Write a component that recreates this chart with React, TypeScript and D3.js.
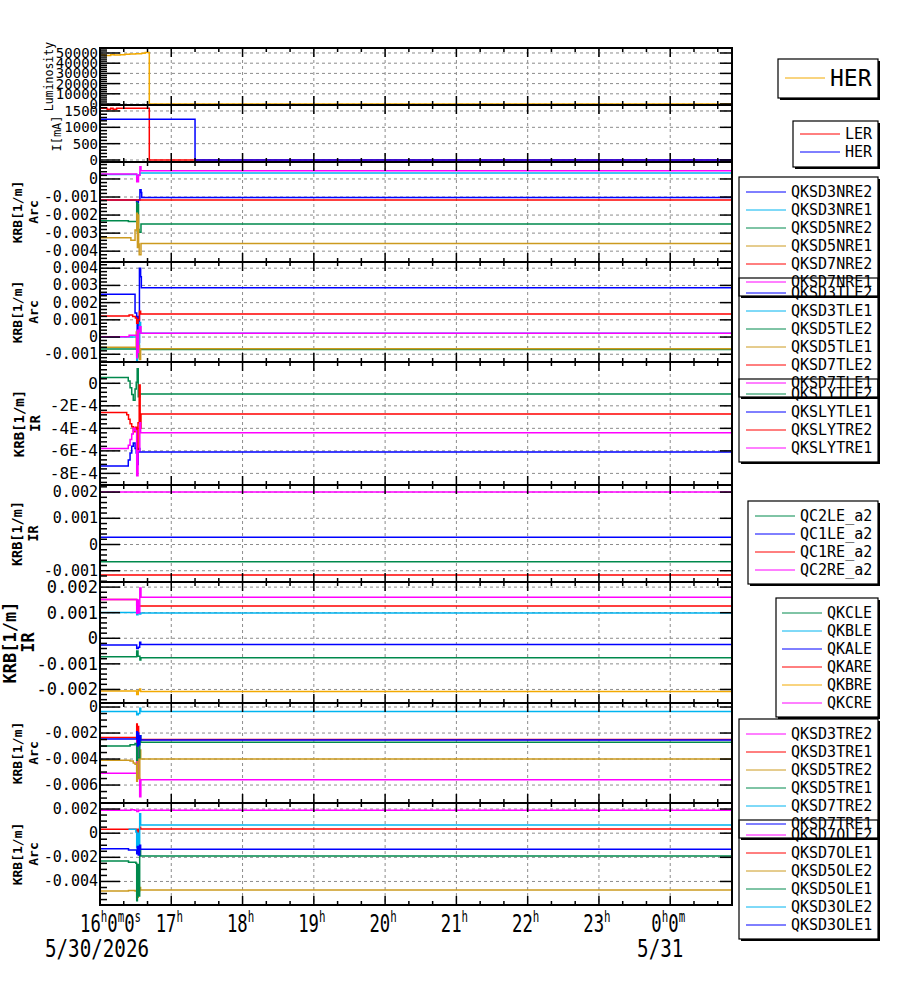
import React from "react";
import * as d3 from "d3";

const MONO = "'DejaVu Sans Mono', monospace";

// Time axis: 5/30/2026 16:00 to 5/31 00:52; series points are [minutes after 16:00, value]
const START = new Date(2026, 4, 30, 16, 0, 0);
const END = new Date(2026, 4, 31, 0, 52, 0);
const END_MIN = (END.getTime() - START.getTime()) / 60000;

type Pt = [number, number];

const HOUR_LABELS = ["16^h0^m0^s", "17^h", "18^h", "19^h", "20^h", "21^h", "22^h", "23^h", "0^h0^m"];
const DATE_LABELS: [string, number][] = [["5/30/2026", 0], ["5/31", 480]];

// Luminosity and beam currents
const lumHER: Pt[] = [[0, 48000], [4, 47600], [9, 48200], [12, 48000], [17, 48400], [21, 48700], [25, 48900], [30, 49300], [35, 49800], [38, 50500], [41.5, 0]];
const curLER: Pt[] = [[0, 1580], [6, 1550], [9, 1580], [11, 1550], [14, 1580], [41.5, 0]];
const curHER: Pt[] = [[0, 1245], [80, 0]];

// Arc, NRE
const QKSD3NRE2: Pt[] = [[0, -0.00117], [30.8, -0.00128], [31.3, -0.00145], [31.8, -0.0013], [32.3, -0.00117], [33.6, -0.0006], [34.6, -0.00075], [35.1, -0.00102]];
const QKSD3NRE1: Pt[] = [[0, 0.00025], [31, 0.00018], [32.5, 0.00022], [33.6, 0.00033]];
const QKSD5NRE2: Pt[] = [[0, -0.00232], [23.9, -0.00236], [30.9, -0.0013], [31.4, -0.0029], [31.9, -0.0014], [32.4, -0.0028], [32.9, -0.00295], [34.5, -0.0025]];
const QKSD5NRE1: Pt[] = [[0, -0.00326], [26, -0.0034], [29.5, -0.00283], [31, -0.0019], [31.5, -0.0038], [32, -0.002], [32.5, -0.0036], [33, -0.0042], [34.5, -0.00357]];
const QKSD7NRE2: Pt[] = [[0, -0.00117]];
const QKSD7NRE1: Pt[] = [[0, 0.00028], [30.9, -0.00015], [31.4, 0.0001], [31.9, -0.00015], [32.4, 0.0002], [33.6, 0.00067], [34.5, 0.00045]];

// Arc, TLE
const QKSD3TLE2: Pt[] = [[0, 0.00248], [29.5, 0.0014], [30.9, 0.0008], [31.3, -0.0005], [31.8, 0.0012], [32.4, -0.0003], [33.2, 0.004], [34.2, 0.0035], [34.8, 0.00287]];
const QKSD3TLE1: Pt[] = [[0, 0.0], [30.9, -0.0014], [31.5, 0.0], [32.2, -0.0012], [33.2, 0.00085], [34.2, 0.00022]];
const QKSD5TLE2: Pt[] = [[0, -0.0007], [30.9, -0.0011], [31.8, -0.0007], [34.2, -0.00072]];
const QKSD5TLE1: Pt[] = [[0, -0.0006], [30.5, 0.0003], [31.2, -0.0008], [31.8, 0.0002], [32.4, -0.0005], [33.2, -0.0013], [34.2, -0.00068]];
const QKSD7TLE2: Pt[] = [[0, 0.00122], [24.5, 0.00128], [27.5, 0.0012], [29.8, 0.0011], [30.9, 0.0008], [32, 0.001], [33.2, 0.0015], [34.2, 0.00134]];
const QKSD7TLE1: Pt[] = [[0, 0.00002], [24.5, 0.0001], [30.9, -0.0012], [31.4, 0.0004], [31.9, -0.0009], [32.4, 0.0003], [33.2, 0.0006], [34.5, 0.00022]];

// IR, SLY
const QKSLYTLE2: Pt[] = [[0, 5.2e-5], [23.8, 2e-5], [25.3, -4e-5], [26.7, -1e-4], [28, -1.5e-4], [29.5, -5e-5], [30.5, 1e-5], [31.3, 1.3e-4], [32.2, -1.2e-4], [33.5, -9.5e-5]];
const QKSLYTLE1: Pt[] = [[0, -7.35e-4], [23.8, -6.8e-4], [25.3, -6.2e-4], [26.7, -5.6e-4], [28, -5.3e-4], [29.5, -5.8e-4], [30.5, -6.2e-4], [31.3, -7.2e-4], [32.2, -5.8e-4], [33.5, -6.1e-4]];
const QKSLYTRE2: Pt[] = [[0, -2.6e-4], [22.5, -2.8e-4], [24, -3.2e-4], [25.3, -3.6e-4], [26.7, -3.85e-4], [28, -4.3e-4], [29.5, -3.9e-4], [30.9, -5.9e-4], [32, -3.5e-4], [33, -1.5e-5], [33.8, -4e-4], [34.5, -2.73e-4]];
const QKSLYTRE1: Pt[] = [[0, -5.78e-4], [23.8, -5.5e-4], [25.3, -5.0e-4], [26.7, -4.5e-4], [28, -4.0e-4], [29.5, -4.2e-4], [30.9, -8.2e-4], [32, -6e-4], [33.5, -3.5e-4], [34.2, -4.39e-4]];

// IR, QC
const QC2LE_a2: Pt[] = [[0, -0.00066]];
const QC1LE_a2: Pt[] = [[0, 0.00028]];
const QC1RE_a2: Pt[] = [[0, -0.00116]];
const QC2RE_a2: Pt[] = [[0, 0.002]];

// IR, QK
const QKCLE: Pt[] = [[0, -0.00072], [30.9, -0.0005], [32, -0.0007], [33.6, -0.00085], [34.4, -0.00076]];
const QKBLE: Pt[] = [[0, 0.00101], [30.9, 0.00092], [32, 0.001], [33.5, 0.00095], [34.3, 0.00099]];
const QKALE: Pt[] = [[0, -0.00026], [30.9, -0.0004], [32.3, -0.00035], [33.4, -0.00016], [34.3, -0.00024]];
const QKARE: Pt[] = [[0, 0.00152], [30.9, 0.00126], [31.3, 0.0011], [31.8, 0.0014], [32.3, 0.00126]];
const QKBRE: Pt[] = [[0, -0.00206], [30.9, -0.0022], [32.2, -0.00205], [33.4, -0.00198], [34.2, -0.00208]];
const QKCRE: Pt[] = [[0, 0.00152], [30.9, 0.00098], [31.6, 0.0015], [32.2, 0.001], [33.5, 0.00197], [34.5, 0.0016]];

// Arc, TRE
const QKSD3TRE2: Pt[] = [[0, -0.0051], [30.9, -0.0025], [31.4, -0.0047], [31.9, -0.003], [32.5, -0.0055], [33.4, -0.0069], [34.4, -0.0056]];
const QKSD3TRE1: Pt[] = [[0, -0.00235], [30.9, -0.0013], [31.4, -0.0027], [31.9, -0.0015], [32.5, -0.0026], [33.5, -0.0025]];
const QKSD5TRE2: Pt[] = [[0, -0.0041], [25.3, -0.00415], [28, -0.0043], [29.5, -0.0044], [30.9, -0.0057], [31.5, -0.004], [32, -0.0055], [33.5, -0.0033], [34.3, -0.004]];
const QKSD5TRE1: Pt[] = [[0, -0.003], [25.3, -0.0029], [29.5, -0.0028], [30.9, -0.0041], [31.5, -0.0029], [32, -0.0039], [33.5, -0.0022], [34.3, -0.0027]];
const QKSD7TRE2: Pt[] = [[0, -0.00035], [30.9, -0.0006], [32.2, -0.0005], [33.5, -0.0001], [34.3, -0.00035]];
const QKSD7TRE1: Pt[] = [[0, -0.00245], [30.9, -0.0019], [31.5, -0.003], [32, -0.002], [32.6, -0.0029], [33.5, -0.0022], [34.3, -0.00254]];

// Arc, OLE
const QKSD7OLE2: Pt[] = [[0, 0.0019], [26, 0.00195], [29, 0.0019], [31, 0.0018], [32.5, 0.0019]];
const QKSD7OLE1: Pt[] = [[0, 0.00033], [30.9, 0.0], [32.2, 0.00033], [33.4, 0.0005], [34.2, 0.00035]];
const QKSD5OLE2: Pt[] = [[0, -0.0048], [24, -0.00475], [29.5, -0.0048], [30.9, -0.0053], [32.2, -0.0048], [33.4, -0.0045], [34.2, -0.0047]];
const QKSD5OLE1: Pt[] = [[0, -0.0023], [24, -0.0024], [30.2, -0.0025], [30.9, -0.0056], [31.5, -0.0026], [32.2, -0.0052], [33.4, -0.0014], [34.2, -0.0019]];
const QKSD3OLE2: Pt[] = [[24, 0.00033], [30.2, 0.0001], [30.9, -0.0012], [31.5, 0.0], [32.2, -0.0014], [33.4, 0.0016], [34.2, 0.00067]];
const QKSD3OLE1: Pt[] = [[0, -0.0013], [24, -0.0014], [30.9, -0.0017], [31.5, -0.0011], [32.2, -0.0018], [33.4, -0.001], [34.2, -0.00133]];

const COL = {
  blue: "#0000ff",
  cyan: "#00b4f0",
  green: "#00894c",
  gold: "#cc9a1f",
  orange: "#f2a900",
  red: "#ff0000",
  magenta: "#ff00ff",
};

interface SeriesDef { name: string; color: string; pts: Pt[] }
interface LegendDef { x0: number; y0: number; y1: number; first: number; step: number; line: [number, number]; textX: number; font: number }
interface PanelDef {
  top: number; bottom: number; domain: [number, number]; step: number; div: number;
  fmt: (v: number) => string; tickFont: number;
  title: string[]; titleX: number[]; titleFont: number; titleBold: boolean;
  legend: LegendDef; series: SeriesDef[];
}

const f3 = (v: number) => (Math.abs(v) < 1e-12 ? "0" : v.toFixed(3));
const fE4 = (v: number) => (Math.abs(v) < 1e-12 ? "0" : `${Math.round(v / 1e-4)}E-4`);
const fInt = (v: number) => String(Math.round(v));

const krbLegend = (y0: number, n: number, x0 = 739, lx = 746, tx = 791): LegendDef => ({
  x0, y0, y1: y0 + 18 * n + 11, first: y0 + 15, step: 18, line: [lx, lx + 40], textX: tx, font: 15,
});

const PANELS: PanelDef[] = [
  {
    top: 48, bottom: 105, domain: [-980, 54900], step: 10000, div: 5, fmt: fInt, tickFont: 14,
    title: ["Luminosity"], titleX: [49], titleFont: 11.5, titleBold: false,
    legend: { x0: 778, y0: 59, y1: 98, first: 78, step: 0, line: [785, 825], textX: 830, font: 23 },
    series: [{ name: "HER", color: COL.orange, pts: lumHER }],
  },
  {
    top: 105, bottom: 162, domain: [-61, 1683], step: 500, div: 5, fmt: fInt, tickFont: 14,
    title: ["I[mA]"], titleX: [57], titleFont: 12, titleBold: false,
    legend: { x0: 793, y0: 121, y1: 167, first: 134, step: 18, line: [800, 840], textX: 845, font: 15 },
    series: [
      { name: "LER", color: COL.red, pts: curLER },
      { name: "HER", color: COL.blue, pts: curHER },
    ],
  },
  {
    top: 162, bottom: 262, domain: [-0.0046, 0.00094], step: 0.001, div: 5, fmt: f3, tickFont: 15,
    title: ["KRB[1/m]", "Arc"], titleX: [17, 33], titleFont: 13, titleBold: true,
    legend: krbLegend(177, 6),
    series: [
      { name: "QKSD3NRE2", color: COL.blue, pts: QKSD3NRE2 },
      { name: "QKSD3NRE1", color: COL.cyan, pts: QKSD3NRE1 },
      { name: "QKSD5NRE2", color: COL.green, pts: QKSD5NRE2 },
      { name: "QKSD5NRE1", color: COL.gold, pts: QKSD5NRE1 },
      { name: "QKSD7NRE2", color: COL.red, pts: QKSD7NRE2 },
      { name: "QKSD7NRE1", color: COL.magenta, pts: QKSD7NRE1 },
    ],
  },
  {
    top: 262, bottom: 362, domain: [-0.00145, 0.00436], step: 0.001, div: 5, fmt: f3, tickFont: 15,
    title: ["KRB[1/m]", "Arc"], titleX: [17, 33], titleFont: 13, titleBold: true,
    legend: krbLegend(278, 6),
    series: [
      { name: "QKSD3TLE2", color: COL.blue, pts: QKSD3TLE2 },
      { name: "QKSD3TLE1", color: COL.cyan, pts: QKSD3TLE1 },
      { name: "QKSD5TLE2", color: COL.green, pts: QKSD5TLE2 },
      { name: "QKSD5TLE1", color: COL.gold, pts: QKSD5TLE1 },
      { name: "QKSD7TLE2", color: COL.red, pts: QKSD7TLE2 },
      { name: "QKSD7TLE1", color: COL.magenta, pts: QKSD7TLE1 },
    ],
  },
  {
    top: 362, bottom: 485, domain: [-9.03e-4, 1.89e-4], step: 2e-4, div: 5, fmt: fE4, tickFont: 16,
    title: ["KRB[1/m]", "IR"], titleX: [19, 35], titleFont: 14, titleBold: true,
    legend: krbLegend(379, 4),
    series: [
      { name: "QKSLYTLE2", color: COL.green, pts: QKSLYTLE2 },
      { name: "QKSLYTLE1", color: COL.blue, pts: QKSLYTLE1 },
      { name: "QKSLYTRE2", color: COL.red, pts: QKSLYTRE2 },
      { name: "QKSLYTRE1", color: COL.magenta, pts: QKSLYTRE1 },
    ],
  },
  {
    top: 485, bottom: 582, domain: [-0.00143, 0.00227], step: 0.001, div: 5, fmt: f3, tickFont: 15,
    title: ["KRB[1/m]", "IR"], titleX: [17, 33], titleFont: 13.5, titleBold: true,
    legend: krbLegend(501, 4, 748, 755, 800),
    series: [
      { name: "QC2LE_a2", color: COL.green, pts: QC2LE_a2 },
      { name: "QC1LE_a2", color: COL.blue, pts: QC1LE_a2 },
      { name: "QC1RE_a2", color: COL.red, pts: QC1RE_a2 },
      { name: "QC2RE_a2", color: COL.magenta, pts: QC2RE_a2 },
    ],
  },
  {
    top: 582, bottom: 703, domain: [-0.00253, 0.0022], step: 0.001, div: 5, fmt: f3, tickFont: 17,
    title: ["KRB[1/m]", "IR"], titleX: [9.5, 28], titleFont: 17, titleBold: true,
    legend: krbLegend(598, 6, 776, 782, 827),
    series: [
      { name: "QKCLE", color: COL.green, pts: QKCLE },
      { name: "QKBLE", color: COL.cyan, pts: QKBLE },
      { name: "QKALE", color: COL.blue, pts: QKALE },
      { name: "QKARE", color: COL.red, pts: QKARE },
      { name: "QKBRE", color: COL.orange, pts: QKBRE },
      { name: "QKCRE", color: COL.magenta, pts: QKCRE },
    ],
  },
  {
    top: 703, bottom: 803, domain: [-0.00738, 0.00031], step: 0.002, div: 4, fmt: f3, tickFont: 15,
    title: ["KRB[1/m]", "Arc"], titleX: [17, 33], titleFont: 13, titleBold: true,
    legend: krbLegend(719, 6),
    series: [
      { name: "QKSD3TRE2", color: COL.magenta, pts: QKSD3TRE2 },
      { name: "QKSD3TRE1", color: COL.red, pts: QKSD3TRE1 },
      { name: "QKSD5TRE2", color: COL.gold, pts: QKSD5TRE2 },
      { name: "QKSD5TRE1", color: COL.green, pts: QKSD5TRE1 },
      { name: "QKSD7TRE2", color: COL.cyan, pts: QKSD7TRE2 },
      { name: "QKSD7TRE1", color: COL.blue, pts: QKSD7TRE1 },
    ],
  },
  {
    top: 803, bottom: 905, domain: [-0.00595, 0.0025], step: 0.002, div: 4, fmt: f3, tickFont: 15,
    title: ["KRB[1/m]", "Arc"], titleX: [17, 33], titleFont: 13, titleBold: true,
    legend: krbLegend(820, 6),
    series: [
      { name: "QKSD7OLE2", color: COL.magenta, pts: QKSD7OLE2 },
      { name: "QKSD7OLE1", color: COL.red, pts: QKSD7OLE1 },
      { name: "QKSD5OLE2", color: COL.gold, pts: QKSD5OLE2 },
      { name: "QKSD5OLE1", color: COL.green, pts: QKSD5OLE1 },
      { name: "QKSD3OLE2", color: COL.cyan, pts: QKSD3OLE2 },
      { name: "QKSD3OLE1", color: COL.blue, pts: QKSD3OLE1 },
    ],
  },
];

const LEFT = 100;
const RIGHT = 732;
const LEGEND_RIGHT = 878;

const x = d3.scaleTime().domain([START, END]).range([LEFT, RIGHT]);
const tAt = (m: number) => new Date(START.getTime() + m * 60000);
const hourTicks = d3.timeHour.range(START, END);
const minorTicks = d3.timeMinute.every(20)!.range(START, END).filter((d) => d.getMinutes() !== 0);

function yTicks(domain: [number, number], step: number, div: number) {
  const s = step / div;
  const lo = Math.ceil(domain[0] / s - 1e-6);
  const hi = Math.floor(domain[1] / s + 1e-6);
  const major: number[] = [];
  const minor: number[] = [];
  d3.range(lo, hi + 1).forEach((k) => {
    if (k % div === 0) major.push(k * s);
    else minor.push(k * s);
  });
  return { major, minor };
}

function labelTokens(label: string) {
  const out: { t: string; sup: boolean }[] = [];
  for (let i = 0; i < label.length; i++) {
    if (label[i] === "^") {
      out.push({ t: label[i + 1], sup: true });
      i++;
    } else if (out.length && !out[out.length - 1].sup) {
      out[out.length - 1].t += label[i];
    } else {
      out.push({ t: label[i], sup: false });
    }
  }
  return out;
}

function Panel({ p, idx }: { p: PanelDef; idx: number }) {
  const y = d3.scaleLinear().domain(p.domain).range([p.bottom, p.top]);
  const { major, minor } = yTicks(p.domain, p.step, p.div);
  const line = d3
    .line<Pt>()
    .x((d) => x(tAt(d[0])))
    .y((d) => y(d[1]))
    .curve(d3.curveStepAfter);
  const clipId = `clip${idx}`;
  const cy = (p.top + p.bottom) / 2;
  const lg = p.legend;
  return (
    <g>
      <clipPath id={clipId}>
        <rect x={LEFT} y={p.top} width={RIGHT - LEFT} height={p.bottom - p.top} />
      </clipPath>
      {/* grid */}
      <g stroke="#8c8c8c" strokeWidth={1} strokeDasharray="3,3">
        {hourTicks.slice(1).map((d, i) => (
          <line key={`gx${i}`} x1={x(d)} x2={x(d)} y1={p.top} y2={p.bottom} />
        ))}
        {major.map((v, i) => (
          <line key={`gy${i}`} x1={LEFT} x2={RIGHT} y1={y(v)} y2={y(v)} />
        ))}
      </g>
      {/* series */}
      <g clipPath={`url(#${clipId})`} fill="none" strokeWidth={1.5}>
        {p.series.map((s) => {
          const pts: Pt[] = [...s.pts, [END_MIN, s.pts[s.pts.length - 1][1]]];
          return <path key={s.name} d={line(pts) || ""} stroke={s.color} />;
        })}
      </g>
      {/* frame */}
      <rect x={LEFT} y={p.top} width={RIGHT - LEFT} height={p.bottom - p.top} fill="none" stroke="#000" strokeWidth={2} />
      {/* ticks */}
      <g stroke="#000" strokeWidth={1.5}>
        {major.map((v, i) => (
          <g key={`ym${i}`}>
            <line x1={LEFT} x2={LEFT + 20} y1={y(v)} y2={y(v)} />
            <line x1={RIGHT} x2={RIGHT - 12} y1={y(v)} y2={y(v)} />
          </g>
        ))}
        {minor.map((v, i) => (
          <line key={`yn${i}`} x1={LEFT} x2={LEFT + 7} y1={y(v)} y2={y(v)} />
        ))}
        {hourTicks.map((d, i) => (
          <g key={`xm${i}`}>
            <line x1={x(d)} x2={x(d)} y1={p.bottom} y2={p.bottom - 9} />
            <line x1={x(d)} x2={x(d)} y1={p.top} y2={p.top + 9} />
          </g>
        ))}
        {minorTicks.map((d, i) => (
          <g key={`xn${i}`}>
            <line x1={x(d)} x2={x(d)} y1={p.bottom} y2={p.bottom - 4} />
            <line x1={x(d)} x2={x(d)} y1={p.top} y2={p.top + 4} />
          </g>
        ))}
      </g>
      {/* tick labels */}
      <g fontFamily={MONO} fontSize={p.tickFont} textAnchor="end" fill="#000">
        {major.map((v, i) => (
          <text key={`yl${i}`} x={LEFT - 2} y={y(v)} dominantBaseline="central">
            {p.fmt(v)}
          </text>
        ))}
      </g>
      {/* axis title */}
      {p.title.map((t, i) => (
        <text
          key={`t${i}`}
          transform={`translate(${p.titleX[i]},${cy}) rotate(-90)`}
          textAnchor="middle"
          dominantBaseline="central"
          fontFamily={MONO}
          fontSize={p.titleFont}
          fontWeight={p.titleBold ? "bold" : "normal"}
          fill="#000"
        >
          {t}
        </text>
      ))}
      {/* legend */}
      <g>
        <rect x={LEGEND_RIGHT} y={lg.y0 + 2} width={2} height={lg.y1 - lg.y0} fill="#000" />
        <rect x={lg.x0 + 2} y={lg.y1} width={LEGEND_RIGHT - lg.x0} height={2} fill="#000" />
        <rect x={lg.x0} y={lg.y0} width={LEGEND_RIGHT - lg.x0} height={lg.y1 - lg.y0} fill="none" stroke="#000" strokeWidth={1.2} />
        {p.series.map((s, i) => {
          const ey = lg.first + i * lg.step;
          return (
            <g key={`lg${i}`}>
              <line x1={lg.line[0]} x2={lg.line[1]} y1={ey} y2={ey} stroke={s.color} strokeWidth={1} />
              <text x={lg.textX} y={ey} dominantBaseline="central" fontFamily={MONO} fontSize={lg.font} fill="#000">
                {s.name}
              </text>
            </g>
          );
        })}
      </g>
    </g>
  );
}

export default function App() {
  return (
    <svg
      width={900}
      height={984}
      style={{ position: "absolute", left: 0, top: 0, display: "block", background: "#fff" }}
    >
      <rect x={0} y={0} width={900} height={984} fill="#fff" />
      {PANELS.map((p, i) => (
        <Panel key={i} p={p} idx={i} />
      ))}
      {/* time labels */}
      <g fontFamily={MONO} fill="#000">
        {hourTicks.map((d, i) => {
          const toks = labelTokens(HOUR_LABELS[i] || "");
          const first = i === 0;
          const cx = first ? x(d) - 20 : x(d) - 2;
          return (
            <g key={`hl${i}`} transform={`translate(${cx},932) scale(0.72,1)`}>
              <text textAnchor={first ? "start" : "middle"} fontSize={24}>
                {toks.map((tk, j) => {
                  const prevSup = j > 0 && toks[j - 1].sup;
                  return (
                    <tspan
                      key={j}
                      fontSize={tk.sup ? 15 : 24}
                      dy={tk.sup ? -10 : prevSup ? 10 : 0}
                    >
                      {tk.t}
                    </tspan>
                  );
                })}
              </text>
            </g>
          );
        })}
        {DATE_LABELS.map(([t, m], i) => (
          <g key={`dl${i}`} transform={`translate(${x(tAt(m)) - (i === 0 ? 3 : 10)},957) scale(0.8,1)`}>
            <text textAnchor="middle" fontSize={24}>
              {t}
            </text>
          </g>
        ))}
      </g>
    </svg>
  );
}
